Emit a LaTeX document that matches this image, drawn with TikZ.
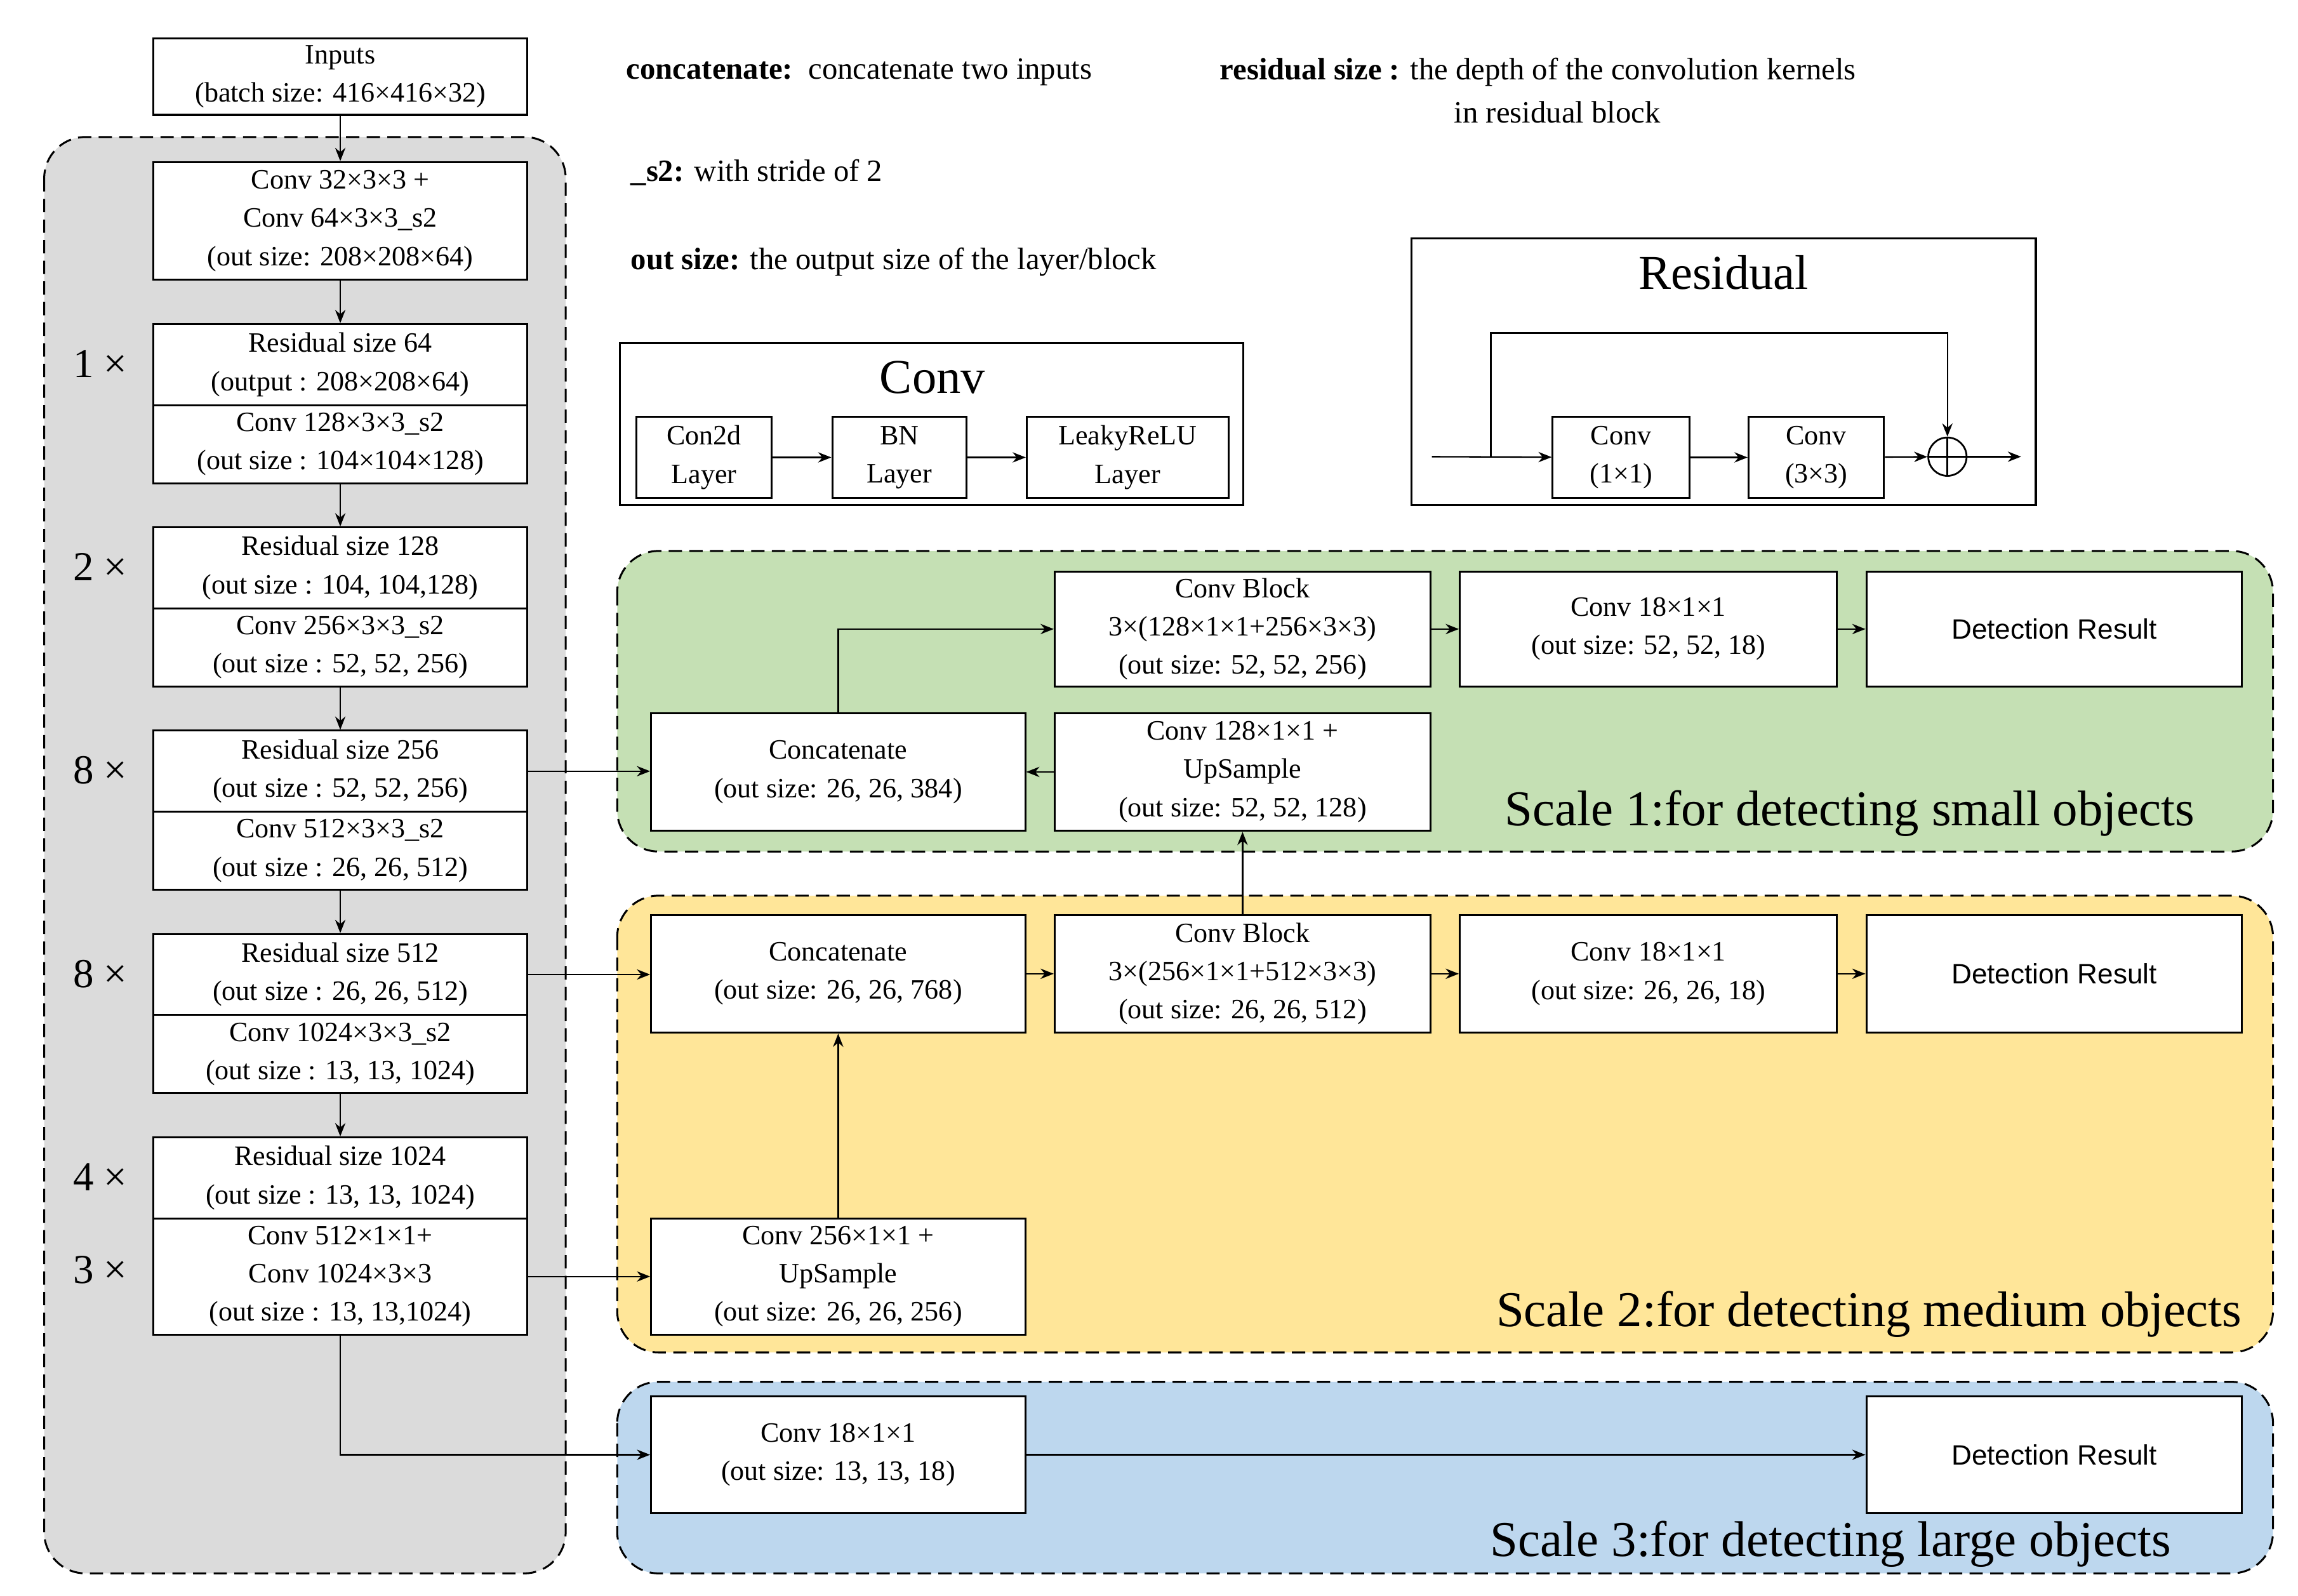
\documentclass[tikz,border=0pt]{standalone}
\usepackage{fontspec}
\setmainfont{Liberation Serif}
\newfontfamily\sans{Liberation Sans}
\usetikzlibrary{arrows.meta}
\begin{document}
\begin{tikzpicture}[x=1pt,y=-1pt,
  box/.style={draw,line width=1.3pt,fill=white,align=center,inner sep=0pt,font=\fontsize{19}{26}\selectfont},
  reg/.style={draw,dashed,line width=1.3pt,rounded corners=28pt,dash pattern=on 9pt off 5pt},
  arr/.style={-{Stealth[length=9pt,width=7pt]},line width=1pt},
  lbl/.style={font=\fontsize{21}{24}\selectfont,anchor=west,inner sep=0pt},
  big/.style={font=\fontsize{33}{36}\selectfont,inner sep=0pt},
  sc/.style={font=\fontsize{34}{36}\selectfont,inner sep=0pt,anchor=east},
  mul/.style={font=\fontsize{28}{30}\selectfont,inner sep=0pt}]
\useasboundingbox (0,0) rectangle (1560,1083);
% regions
\draw[reg,fill=gray!28] (30,93) rectangle (384,1068);
\draw[reg,fill={rgb,255:red,197;green,224;blue,180}] (419,374) rectangle (1543,578);
\draw[reg,fill={rgb,255:red,255;green,230;blue,153}] (419,608) rectangle (1543,918);
\draw[reg,fill={rgb,255:red,189;green,215;blue,238}] (419,938) rectangle (1543,1068);
% backbone
\node[box,minimum width=254,minimum height=52] (in) at (231,52) {Inputs\\(batch size: 416×416×32)};
\node[box,minimum width=254,minimum height=80] (c0) at (231,150) {Conv 32×3×3 +\\Conv 64×3×3\_s2\\(out size: 208×208×64)};
\node[box,minimum width=254,minimum height=55] (r1) at (231,247.5) {Residual size 64\\(output : 208×208×64)};
\node[box,minimum width=254,minimum height=53] (d1) at (231,301.5) {Conv 128×3×3\_s2\\(out size : 104×104×128)};
\node[box,minimum width=254,minimum height=55] (r2) at (231,385.5) {Residual size 128\\(out size : 104, 104,128)};
\node[box,minimum width=254,minimum height=53] (d2) at (231,439.5) {Conv 256×3×3\_s2\\(out size : 52, 52, 256)};
\node[box,minimum width=254,minimum height=55] (r3) at (231,523.5) {Residual size 256\\(out size : 52, 52, 256)};
\node[box,minimum width=254,minimum height=53] (d3) at (231,577.5) {Conv 512×3×3\_s2\\(out size : 26, 26, 512)};
\node[box,minimum width=254,minimum height=55] (r4) at (231,661.5) {Residual size 512\\(out size : 26, 26, 512)};
\node[box,minimum width=254,minimum height=53] (d4) at (231,715.5) {Conv 1024×3×3\_s2\\(out size : 13, 13, 1024)};
\node[box,minimum width=254,minimum height=55] (r5) at (231,799.5) {Residual size 1024\\(out size : 13, 13, 1024)};
\node[box,minimum width=254,minimum height=79] (d5) at (231,866.5) {Conv 512×1×1+\\Conv 1024×3×3\\(out size : 13, 13,1024)};
\draw[arr] (in) -- (c0); \draw[arr] (c0) -- (r1); \draw[arr] (d1) -- (r2);
\draw[arr] (d2) -- (r3); \draw[arr] (d3) -- (r4); \draw[arr] (d4) -- (r5);
\node[mul] (m1) at (68,247) {1 ×}; \node[mul] (m2) at (68,385) {2 ×};
\node[mul] (m3) at (68,523) {8 ×}; \node[mul] (m4) at (68,661) {8 ×};
\node[mul] (m5) at (68,799) {4 ×}; \node[mul] (m6) at (68,862) {3 ×};
% legend
\node[lbl] (t1) at (425,49) {\textbf{concatenate:}\ \ concatenate two inputs};
\node[lbl] (t2) at (828,49) {\textbf{residual size :} the depth of the convolution kernels};
\node[lbl] (t3) at (987,76) {in residual block};
\node[lbl] (t4) at (428,117) {\textbf{\_s2:} with stride of 2};
\node[lbl] (t5) at (428,178) {\textbf{out size:} the output size of the layer/block};
% Conv legend box
\node[draw,line width=1.3pt,minimum width=423,minimum height=110,inner sep=0pt] (cb) at (632.5,288) {};
\node[big] (cbt) at (633,256) {Conv};
\node[box,minimum width=92,minimum height=55] (l1) at (478,310.5) {Con2d\\Layer};
\node[box,minimum width=91,minimum height=55] (l2) at (610.5,310.5) {BN\\Layer};
\node[box,minimum width=137,minimum height=55] (l3) at (765.5,310.5) {LeakyReLU\\Layer};
\draw[arr] (l1) -- (l2); \draw[arr] (l2) -- (l3);
% Residual legend box
\node[draw,line width=1.3pt,minimum width=424,minimum height=181,inner sep=0pt] (rb) at (1170,252.5) {};
\node[big] (rbt) at (1170,185) {Residual};
\node[box,minimum width=93,minimum height=55] (q1) at (1100.5,310.5) {Conv\\(1×1)};
\node[box,minimum width=92,minimum height=55] (q2) at (1233,310.5) {Conv\\(3×3)};
\node[draw,circle,line width=1.2pt,minimum size=26pt,inner sep=0pt] (pl) at (1322,310) {};
\draw[line width=1.2pt] (1309,310) -- (1335,310) (1322,297) -- (1322,323);
\coordinate (rs) at (972,310); \coordinate (rk) at (1012,310); \coordinate (re) at (1372,310);
\draw[arr] (rs) -- (q1); \draw[arr] (q1) -- (q2); \draw[arr] (q2) -- (pl); \draw[arr] (pl) -- (re);
\draw[arr] (rk) -- (1012,226) -- (1322,226) -- (pl);
% Scale 1
\node[box,minimum width=255,minimum height=78] (cb1) at (843.5,427) {Conv Block\\3×(128×1×1+256×3×3)\\(out size: 52, 52, 256)};
\node[box,minimum width=256,minimum height=78] (o1) at (1119,427) {Conv 18×1×1\\(out size: 52, 52, 18)};
\node[box,minimum width=255,minimum height=78,font=\sans\fontsize{19}{24}\selectfont] (det1) at (1394.5,427) {Detection Result};
\node[box,minimum width=254,minimum height=80] (cat1) at (569,524) {Concatenate\\(out size: 26, 26, 384)};
\node[box,minimum width=255,minimum height=80] (up1) at (843.5,524) {Conv 128×1×1 +\\UpSample\\(out size: 52, 52, 128)};
\draw[arr] (r3.east) -- (cat1.west |- r3.east);
\draw[arr] (up1) -- (cat1);
\draw[arr] (cat1.north) |- (cb1.west);
\draw[arr] (cb1) -- (o1); \draw[arr] (o1) -- (det1);
\node[sc] (s1) at (1490,552) {Scale 1:for detecting small objects};
% Scale 2
\node[box,minimum width=254,minimum height=80] (cat2) at (569,661) {Concatenate\\(out size: 26, 26, 768)};
\node[box,minimum width=255,minimum height=80] (cb2) at (843.5,661) {Conv Block\\3×(256×1×1+512×3×3)\\(out size: 26, 26, 512)};
\node[box,minimum width=256,minimum height=80] (o2) at (1119,661) {Conv 18×1×1\\(out size: 26, 26, 18)};
\node[box,minimum width=255,minimum height=80,font=\sans\fontsize{19}{24}\selectfont] (det2) at (1394.5,661) {Detection Result};
\node[box,minimum width=254,minimum height=79] (up2) at (569,866.5) {Conv 256×1×1 +\\UpSample\\(out size: 26, 26, 256)};
\draw[arr] (r4.east) -- (cat2.west |- r4.east);
\draw[arr] (cat2) -- (cb2); \draw[arr] (cb2) -- (o2); \draw[arr] (o2) -- (det2);
\draw[arr] (cb2) -- (up1);
\draw[arr] (up2) -- (cat2);
\draw[arr] (d5.east) -- (up2.west |- d5.east);
\node[sc] (s2) at (1522,892) {Scale 2:for detecting medium objects};
% Scale 3
\node[box,minimum width=254,minimum height=79] (o3) at (569,987.5) {Conv 18×1×1\\(out size: 13, 13, 18)};
\node[box,minimum width=255,minimum height=79,font=\sans\fontsize{19}{24}\selectfont] (det3) at (1394.5,987.5) {Detection Result};
\draw[arr] (d5.south) |- (o3.west);
\draw[arr] (o3) -- (det3);
\node[sc] (s3) at (1474,1048) {Scale 3:for detecting large objects};
\end{tikzpicture}
\end{document}
